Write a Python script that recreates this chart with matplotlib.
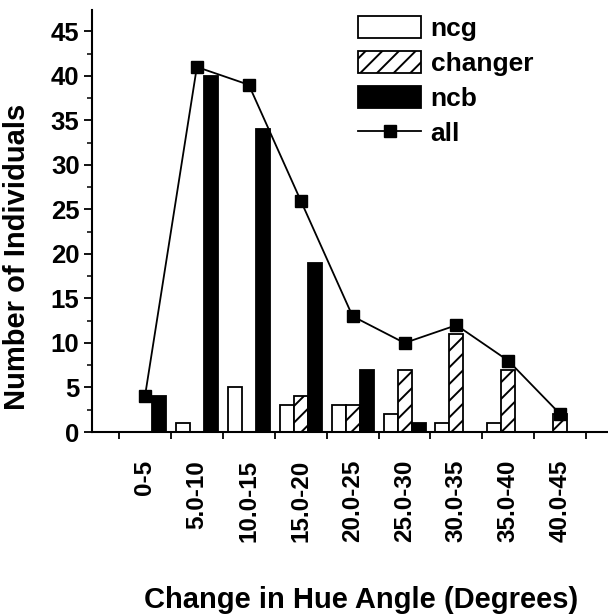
import matplotlib
matplotlib.use("Agg")
import matplotlib.pyplot as plt
from matplotlib.ticker import MultipleLocator, FixedLocator, NullFormatter, FixedFormatter
import numpy as np

plt.rcParams["font.family"] = ["Liberation Sans", "DejaVu Sans"]
plt.rcParams["font.weight"] = "bold"
plt.rcParams["hatch.linewidth"] = 1.4

# data
categories = ["0-5", "5.0-10", "10.0-15", "15.0-20", "20.0-25",
              "25.0-30", "30.0-35", "35.0-40", "40.0-45"]
ncg = [0, 1, 5, 3, 3, 2, 1, 1, 0]
changer = [0, 0, 0, 4, 3, 7, 11, 7, 2]
ncb = [4, 40, 34, 19, 7, 1, 0, 0, 0]
all_ind = [4, 41, 39, 26, 13, 10, 12, 8, 2]

x = np.arange(len(categories))
w = 0.27

fig = plt.figure(figsize=(6.08, 6.15), dpi=100)
ax = fig.add_axes([92 / 608, 1 - 432 / 615, (607 - 92) / 608, (432 - 10) / 615])

b1 = ax.bar(x - w, ncg, w, color="white", edgecolor="black", lw=1.3, zorder=2)
b2 = ax.bar(x, changer, w, color="white", edgecolor="black", lw=1.3, hatch="//", zorder=2)
b3 = ax.bar(x + w, ncb, w, color="black", edgecolor="black", lw=1.3, zorder=2)
ln, = ax.plot(x, all_ind, color="black", lw=1.3, marker="s", ms=8.5, zorder=3)

ax.set_xlim(-1.02, 8.9)
ax.set_ylim(0, 47.4)

for s in ("top", "right"):
    ax.spines[s].set_visible(False)
for s in ("left", "bottom"):
    ax.spines[s].set_linewidth(1.5)

ax.yaxis.set_major_locator(MultipleLocator(5))
ax.yaxis.set_minor_locator(MultipleLocator(2.5))
ax.tick_params(axis="y", which="major", length=6, width=1.3, labelsize=18.5, pad=3)
ax.tick_params(axis="y", which="minor", length=3.5, width=1.1)

# boundary ticks (no labels) and category labels at centres
ax.xaxis.set_major_locator(FixedLocator(np.append(x - 0.5, x[-1] + 0.5)))
ax.xaxis.set_major_formatter(NullFormatter())
ax.xaxis.set_minor_locator(FixedLocator(x))
ax.xaxis.set_minor_formatter(FixedFormatter(categories))
ax.tick_params(axis="x", which="major", length=5, width=1.3)
ax.tick_params(axis="x", which="minor", length=0, labelsize=17.5, pad=20)
for lab in ax.get_xticklabels(minor=True):
    lab.set_rotation(90)

fig.text(17 / 608, 1 - 257 / 615, "Number of Individuals", rotation=90,
         ha="center", va="center", fontsize=21, fontweight="bold")
fig.text(361 / 608, 1 - 600 / 615, "Change in Hue Angle (Degrees)",
         ha="center", va="center", fontsize=21, fontweight="bold")

fig.legend([b1, b2, b3, ln], ["ncg", "changer", "ncb", "all"],
           loc="upper left", bbox_to_anchor=(358 / 608, 1 - 16 / 615),
           frameon=False, fontsize=19, handlelength=2.4, handleheight=0.9,
           handletextpad=0.35, labelspacing=0.38, borderpad=0, borderaxespad=0)

fig.savefig("out.png", dpi=100, facecolor="white")
